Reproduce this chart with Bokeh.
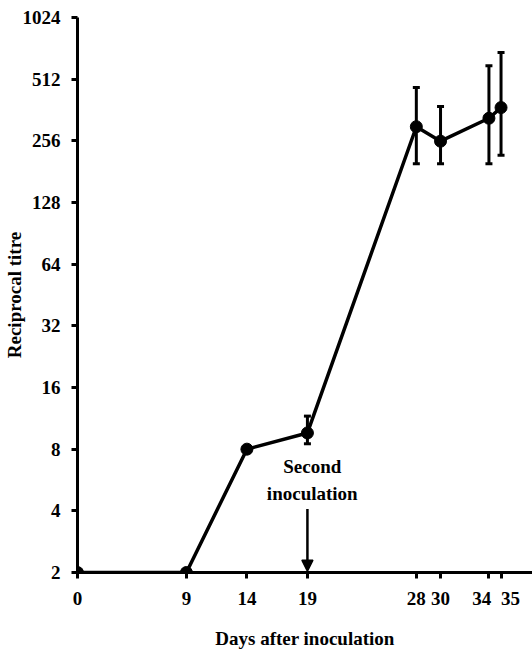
from bokeh.plotting import figure
from bokeh.models import Range1d, FixedTicker, Whisker, TeeHead, Arrow, NormalHead, Label, ColumnDataSource
from bokeh.embed import file_html
from bokeh.resources import INLINE

days = [0, 9, 14, 19, 28, 30, 34, 35]
titre = [2, 2, 8, 9.6, 300, 255, 330, 372]
err_upper = [2, 2, 8, 11.6, 466, 377, 596, 690]
err_lower = [2, 2, 8, 8.5, 198, 198, 198, 218]
y_ticks = [2, 4, 8, 16, 32, 64, 128, 256, 512, 1024]
x_ticks = [0, 9, 14, 19, 28, 30, 34, 35]
x_tick_labels = ["0", "9", "14", "19", "28", "30", "34", "35"]

FONT = "Liberation Serif"
FS = "19px"
NB = "\u00a0"

p = figure(width=532, height=651, y_axis_type="log",
           x_range=Range1d(0, 37.6), y_range=Range1d(2, 1024),
           output_backend="svg", toolbar_location=None,
           min_border_left=77, min_border_top=17, min_border_bottom=79, min_border_right=0)
p.outline_line_color = None
p.grid.visible = False

p.yaxis.ticker = FixedTicker(ticks=y_ticks)
p.yaxis.major_label_overrides = {t: str(t) for t in y_ticks}
p.xaxis.ticker = FixedTicker(ticks=x_ticks)
# the crowded labels 34 and 35 are pushed apart with non-breaking spaces
pad = {34: lambda s: s + NB * 3, 35: lambda s: NB * 4 + s}
p.xaxis.major_label_overrides = {t: pad.get(t, lambda s: s)(lab) for t, lab in zip(x_ticks, x_tick_labels)}

for ax in (p.xaxis, p.yaxis):
    ax.axis_line_width = 3
    ax.axis_line_color = "black"
    ax.major_tick_line_width = 3
    ax.major_tick_line_color = "black"
    ax.major_tick_out = 6
    ax.major_tick_in = 0
    ax.minor_tick_line_color = None
    ax.major_label_text_font = FONT
    ax.major_label_text_font_size = FS
    ax.major_label_text_font_style = "bold"
    ax.major_label_text_color = "black"
    ax.axis_label_text_font = FONT
    ax.axis_label_text_font_size = FS
    ax.axis_label_text_font_style = "bold"
    ax.axis_label_text_color = "black"

p.xaxis.axis_label = "Days after inoculation"
p.yaxis.axis_label = "Reciprocal titre"
p.xaxis.major_label_standoff = 9
p.xaxis.axis_label_standoff = 16
p.yaxis.major_label_standoff = 11
p.yaxis.axis_label_standoff = -5

src = ColumnDataSource(dict(x=days, y=titre, upper=err_upper, lower=err_lower))
w = Whisker(base="x", upper="upper", lower="lower", source=src, line_width=3, line_color="black",
            upper_head=TeeHead(size=7, line_width=3, line_color="black"),
            lower_head=TeeHead(size=7, line_width=3, line_color="black"))
p.add_layout(w)
p.line("x", "y", source=src, line_width=3.5, line_color="black")
p.scatter("x", "y", source=src, size=12, fill_color="black", line_color="black")

p.add_layout(Arrow(x_start=19, y_start=4.08, x_end=19, y_end=2.03, line_width=2.5, line_color="black",
                   end=NormalHead(size=11, line_width=1.5, line_color="black", fill_color="black")))
for txt, yv in (("Second", 6.55), ("inoculation", 4.85)):
    p.add_layout(Label(x=19.4, y=yv, text=txt, text_align="center", text_baseline="middle",
                       text_font=FONT, text_font_size=FS, text_font_style="bold", text_color="black"))

open("out.html", "w").write(file_html(p, INLINE))
